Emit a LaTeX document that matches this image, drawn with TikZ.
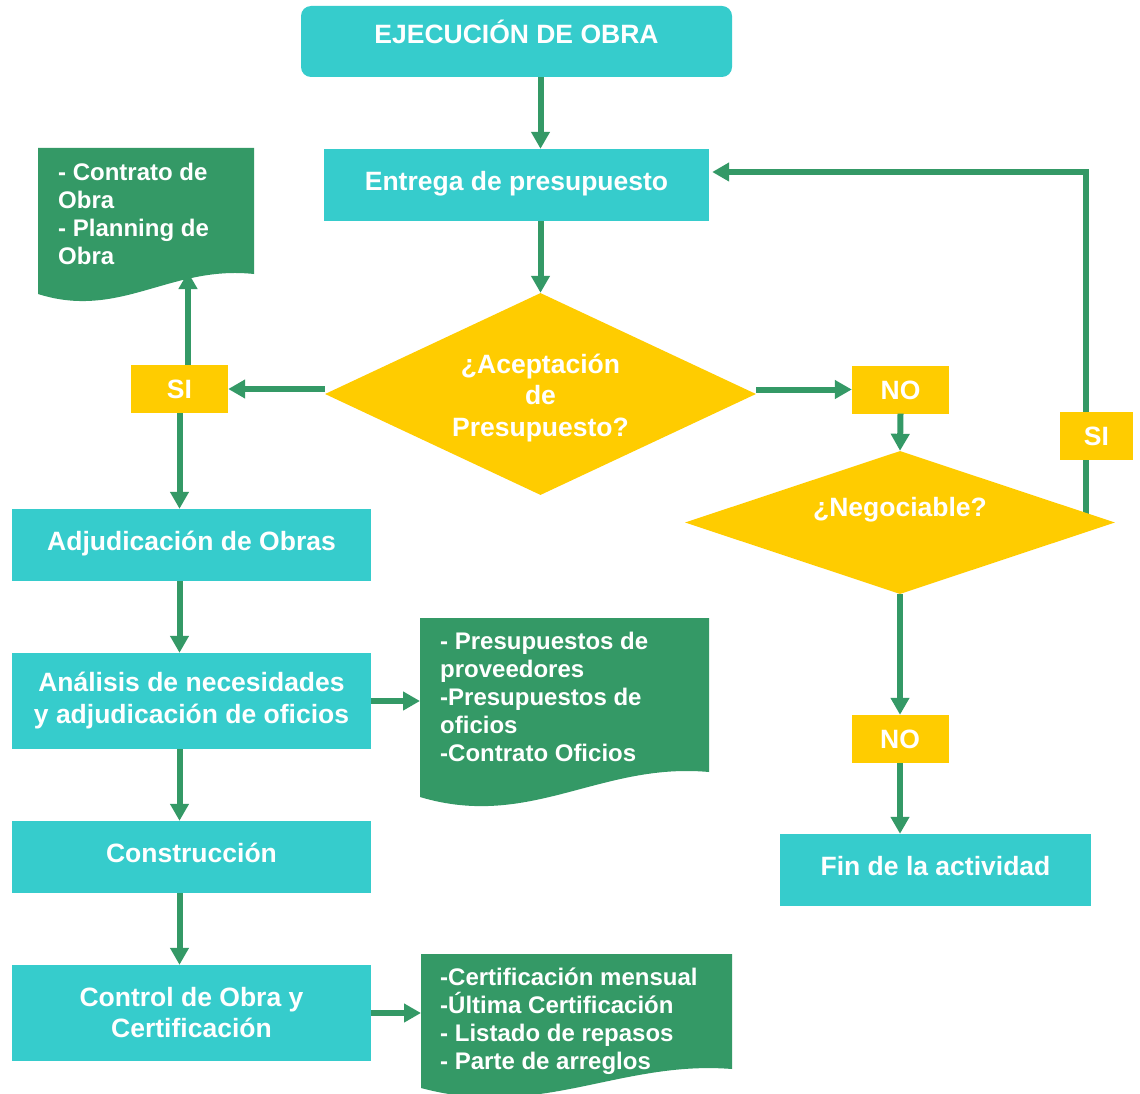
\documentclass[tikz,border=0pt]{standalone}
\usepackage{fontspec}
\setmainfont{Liberation Sans}
\usetikzlibrary{arrows.meta,shapes.geometric,backgrounds,calc}
\definecolor{boxteal}{RGB}{54,204,204}
\definecolor{flowgreen}{RGB}{52,153,102}
\definecolor{decyellow}{RGB}{255,204,0}
\newcommand{\flowfont}{\fontsize{26.5}{28}\selectfont\bfseries}
\newcommand{\flowfontwide}{\fontsize{26.5}{31.5}\selectfont\bfseries}
\newcommand{\docfont}{\fontsize{24}{28}\selectfont\bfseries}

\begin{document}
\begin{tikzpicture}[x=1pt,y=-1pt,
  txt/.style={font=\flowfont, text=white, inner sep=0pt},
  stagebase/.style={txt, fill=boxteal, minimum width=359pt, minimum height=72pt},
  stage/.style={stagebase, text height=19pt, text depth=9pt},
  tag/.style={txt, fill=decyellow, minimum width=97pt, minimum height=48pt, text height=19pt, text depth=0pt},
  decision/.style={txt, shape=diamond, fill=decyellow, align=center},
  doctext/.style={txt, font=\docfont, align=left, anchor=base west},
  flow/.style={draw=flowgreen, line width=6pt, -{Triangle[length=17pt,width=18pt]}}
]
\useasboundingbox (0,0) rectangle (1140,1094);

% process boxes
\node[stage, rounded corners=10pt, minimum width=431pt, minimum height=71pt,
      text depth=15pt] (ejec) at (516.5,41.5) {EJECUCIÓN DE OBRA};
\node[stage, minimum width=385pt] (ent) at (516.5,185) {Entrega de presupuesto};
\node[stage] (adj) at (191.5,545) {Adjudicación de Obras};
\node[stagebase, minimum height=96pt, align=center, font=\fontsize{26.5}{32}\selectfont\bfseries]
      (ana) at (191.5,701) {Análisis de necesidades\\y adjudicación de oficios};
\node[stage] (con) at (191.5,857) {Construcción};
\node[stagebase, minimum height=96pt, align=center, font=\fontsize{26.5}{31}\selectfont\bfseries]
      (ctl) at (191.5,1013) {Control de Obra y\\Certificación};
\node[stage, minimum width=311pt] (fin) at (935.5,870) {Fin de la actividad};

% decisions
\node[decision, minimum width=431pt, minimum height=202pt,
      label={[txt, font=\flowfontwide, align=center, yshift=-4pt]center:{¿Aceptación\\de\\Presupuesto?}}]
      (acep) at (540.5,394) {};
\node[decision, minimum width=430pt, minimum height=143pt, aspect=3,
      text height=19pt, text depth=32pt] (neg) at (900,522.5) {¿Negociable?};

% answer tags
\node[tag] (si1) at (179.5,389) {SI};
\node[tag] (no1) at (900.5,389.5) {NO};
\node[tag, minimum width=73pt] (si2) at (1096.5,435.5) {SI};
\node[tag] (no2) at (900,739) {NO};

% documents (base anchor sits on the last line)
\fill[flowgreen] (38,148) -- (254,148) -- (254,274)
  .. controls (170,265) and (120,320) .. (38,294) -- cycle;
\node[doctext] (doc1) at (58,264) {- Contrato de\\Obra\\- Planning de\\Obra};
\fill[flowgreen] (420,618) -- (709,618) -- (709,772)
  .. controls (600,762) and (530,830) .. (420,797) -- cycle;
\node[doctext] (doc2) at (440,761)
  {- Presupuestos de\\proveedores\\-Presupuestos de\\oficios\\-Contrato Oficios};
\fill[flowgreen] (421,954) -- (732,954) -- (732,1069)
  .. controls (620,1060) and (540,1120) .. (421,1088) -- cycle;
\node[doctext] (doc3) at (440,1069)
  {-Certificación mensual\\-Última Certificación\\- Listado de repasos\\- Parte de arreglos};

\coordinate (doc1foot) at (188,272);
\coordinate (doc2edge) at (420,702);
\coordinate (doc3edge) at (421,1014);
\coordinate (looptop) at (1086,172);

% connectors
\draw[flow] (acep.north |- ejec.south) -- (acep.north |- ent.north);
\draw[flow] (acep.north |- ent.south) -- (acep.north);
\draw[flow] (si1.east -| acep.west) -- (si1.east);
\draw[flow] (si1.north -| doc1foot) -- (doc1foot);
\draw[flow] (si1.south) -- (si1.south |- adj.north);
\draw[flow] (si1.south |- adj.south) -- (si1.south |- ana.north);
\draw[flow] (si1.south |- ana.south) -- (si1.south |- con.north);
\draw[flow] (si1.south |- con.south) -- (si1.south |- ctl.north);
\draw[flow] (ana.east) -- (ana.east -| doc2edge);
\draw[flow] (ctl.east) -- (ctl.east -| doc3edge);
\draw[flow] (no1.west -| acep.east) -- (no1.west);
\draw[flow] (no1.south) -- (neg.north);
\draw[flow] (neg.south) -- (no2.north);
\draw[flow] (no2.south) -- (no2.south |- fin.north);

\begin{scope}[on background layer]
  \fill[white] (0,0) rectangle (1140,1094);
  \draw[flow] (neg.center -| looptop) -- (looptop) -- ($(looptop -| ent.east)+(3,0)$);
\end{scope}
\end{tikzpicture}
\end{document}
